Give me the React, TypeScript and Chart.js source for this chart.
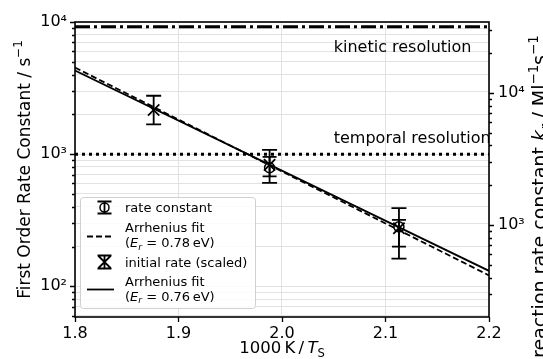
import React, { useEffect, useRef } from 'react';
import { Chart, registerables } from 'chart.js';

Chart.register(...registerables);

// ---- data ----
const xTickValues = [1.8, 1.9, 2.0, 2.1, 2.2];
const rateX = [1.988, 2.113];
const rateY = [790, 282];
const rateLow = [680, 200];
const rateHigh = [955, 318];
const initX = [1.876, 1.988, 2.113];
const initY = [2160, 830, 275];
const initLow = [1683, 606, 162];
const initHigh = [2766, 1077, 391];
const fitX = [1.8, 2.2];
const fit078 = [4520, 121];
const fit076 = [4300, 131];
const kineticLimit = 9200;
const temporalLimit = 1000;
const yRange = [58.6, 10000];
const xRange = [1.8, 2.2];
const rightFactor = 3.43;
const legendLabels = ['rate constant', 'Arrhenius fit', 'initial rate (scaled)', 'Arrhenius fit'];
const legendEnergies = ['0.78', '0.76'];

const FAMILY = '"DejaVu Sans", sans-serif';

type Seg = { t: string; it?: boolean; sub?: boolean; sup?: boolean };

function richWidth(ctx: CanvasRenderingContext2D, segs: Seg[], size: number) {
  let w = 0;
  for (const s of segs) {
    ctx.font = `${s.it ? 'italic ' : ''}${s.sub || s.sup ? size * 0.7 : size}px ${FAMILY}`;
    w += ctx.measureText(s.t).width;
  }
  return w;
}

function drawRich(ctx: CanvasRenderingContext2D, segs: Seg[], x: number, y: number, size: number, align: 'left' | 'center') {
  const w = richWidth(ctx, segs, size);
  let cx = align === 'center' ? x - w / 2 : x;
  ctx.textAlign = 'left';
  ctx.textBaseline = 'alphabetic';
  for (const s of segs) {
    ctx.font = `${s.it ? 'italic ' : ''}${s.sub || s.sup ? size * 0.7 : size}px ${FAMILY}`;
    const dy = s.sub ? size * 0.22 : s.sup ? -size * 0.42 : 0;
    ctx.fillText(s.t, cx, y + dy);
    cx += ctx.measureText(s.t).width;
  }
  return w;
}

const pts = (xs: number[], ys: number[]) => xs.map((x, i) => ({ x, y: ys[i] }));

const isRound = (v: number) => {
  const e = Math.pow(10, Math.floor(Math.log10(v) + 1e-9));
  const s = v / e;
  return Math.abs(s - Math.round(s)) < 1e-6;
};
const isPow10 = (v: number) => Math.abs(Math.log10(v) - Math.round(Math.log10(v))) < 1e-6;
const supDigits: Record<string, string> = { '0': '⁰', '1': '¹', '2': '²', '3': '³', '4': '⁴', '5': '⁵', '6': '⁶' };

const decorPlugin = {
  id: 'decor',
  beforeDatasetsDraw(chart: any) {
    const { ctx, chartArea: a } = chart;
    const xs = chart.scales.x;
    const ys = chart.scales.y;
    ctx.save();
    ctx.beginPath();
    ctx.rect(a.left, a.top, a.right - a.left, a.bottom - a.top);
    ctx.clip();
    ctx.fillStyle = '#000';
    ctx.font = `16px ${FAMILY}`;
    ctx.textAlign = 'left';
    ctx.textBaseline = 'alphabetic';
    ctx.fillText('kinetic resolution', xs.getPixelForValue(2.05), ys.getPixelForValue(5900));
    ctx.fillText('temporal resolution', xs.getPixelForValue(2.05), ys.getPixelForValue(1208));
    ctx.restore();
  },
  afterDatasetsDraw(chart: any) {
    const { ctx } = chart;
    const xs = chart.scales.x;
    const ys = chart.scales.y;
    ctx.save();
    ctx.strokeStyle = '#000';
    ctx.lineWidth = 1.8;
    const bar = (x: number, lo: number, hi: number, cap: number) => {
      const px = xs.getPixelForValue(x);
      const p1 = ys.getPixelForValue(lo);
      const p2 = ys.getPixelForValue(hi);
      ctx.beginPath();
      ctx.moveTo(px, p1); ctx.lineTo(px, p2);
      ctx.moveTo(px - cap, p1); ctx.lineTo(px + cap, p1);
      ctx.moveTo(px - cap, p2); ctx.lineTo(px + cap, p2);
      ctx.stroke();
    };
    rateX.forEach((x, i) => bar(x, rateLow[i], rateHigh[i], 7));
    initX.forEach((x, i) => bar(x, initLow[i], initHigh[i], 7.5));
    ctx.restore();
  },
  afterDraw(chart: any) {
    const { ctx, chartArea: a } = chart;
    const ys = chart.scales.y;
    const y2 = chart.scales.y2;
    const xs = chart.scales.x;
    ctx.save();
    ctx.strokeStyle = '#000';
    ctx.lineWidth = 1.3;
    // ticks
    ctx.beginPath();
    for (const t of ys.ticks) {
      if (!isRound(t.value)) continue;
      const p = Math.round(ys.getPixelForValue(t.value)) + 0.5;
      const len = isPow10(t.value) ? 5 : 3;
      ctx.moveTo(a.left, p); ctx.lineTo(a.left - len, p);
    }
    for (const t of y2.ticks) {
      if (!isRound(t.value)) continue;
      const p = Math.round(y2.getPixelForValue(t.value)) + 0.5;
      const len = isPow10(t.value) ? 5 : 3;
      ctx.moveTo(a.right, p); ctx.lineTo(a.right + len, p);
    }
    for (const v of xTickValues) {
      const p = Math.round(xs.getPixelForValue(v)) + 0.5;
      ctx.moveTo(p, a.bottom); ctx.lineTo(p, a.bottom + 5);
    }
    ctx.stroke();
    // frame
    ctx.lineWidth = 1.6;
    ctx.strokeRect(a.left, a.top, a.right - a.left, a.bottom - a.top);

    // axis titles
    ctx.fillStyle = '#000';
    drawRich(ctx, [{ t: '1000\u2009K\u2009/\u2009' }, { t: 'T', it: true }, { t: 'S', sub: true }], (a.left + a.right) / 2, 353, 16.5, 'center');
    ctx.save();
    ctx.translate(29.5, (a.top + a.bottom) / 2);
    ctx.rotate(-Math.PI / 2);
    drawRich(ctx, [{ t: 'First Order Rate Constant / s' }, { t: '−1', sup: true }], 0, 0, 17, 'center');
    ctx.restore();
    const rightSegs: Seg[] = [
      { t: 'reaction rate constant ' }, { t: 'k', it: true }, { t: 'r', it: true, sub: true },
      { t: ' / Ml' }, { t: '−1', sup: true }, { t: 's' }, { t: '−1', sup: true },
    ];
    ctx.save();
    ctx.translate(546, 358);
    ctx.rotate(-Math.PI / 2);
    drawRich(ctx, rightSegs, 0, 0, 19, 'left');
    ctx.restore();

    // legend
    const lx = 80.5, ly = 197.5, lw = 175, lh = 111;
    ctx.beginPath();
    ctx.roundRect(lx, ly, lw, lh, 3);
    ctx.fillStyle = 'rgba(255,255,255,0.85)';
    ctx.fill();
    ctx.strokeStyle = '#d0d0d0';
    ctx.lineWidth = 1;
    ctx.stroke();
    ctx.fillStyle = '#000';
    ctx.strokeStyle = '#000';
    const hx = 104.5;
    // rate constant handle
    ctx.lineWidth = 1.8;
    ctx.beginPath();
    ctx.moveTo(hx, 201.5); ctx.lineTo(hx, 213.5);
    ctx.moveTo(hx - 7, 201.5); ctx.lineTo(hx + 7, 201.5);
    ctx.moveTo(hx - 7, 213.5); ctx.lineTo(hx + 7, 213.5);
    ctx.stroke();
    ctx.lineWidth = 1.5;
    ctx.beginPath();
    ctx.arc(hx, 207.5, 4.5, 0, Math.PI * 2);
    ctx.stroke();
    // dashed
    ctx.lineWidth = 1.8;
    ctx.setLineDash([6, 3]);
    ctx.beginPath();
    ctx.moveTo(87, 236.5); ctx.lineTo(114, 236.5);
    ctx.stroke();
    ctx.setLineDash([]);
    // initial rate handle
    ctx.beginPath();
    ctx.moveTo(hx, 255.5); ctx.lineTo(hx, 268.5);
    ctx.moveTo(hx - 7, 255.5); ctx.lineTo(hx + 7, 255.5);
    ctx.moveTo(hx - 7, 268.5); ctx.lineTo(hx + 7, 268.5);
    ctx.moveTo(hx - 6, 256); ctx.lineTo(hx + 6, 268);
    ctx.moveTo(hx + 6, 256); ctx.lineTo(hx - 6, 268);
    ctx.stroke();
    // solid
    ctx.beginPath();
    ctx.moveTo(87, 289.5); ctx.lineTo(114, 289.5);
    ctx.stroke();
    // texts
    const fs = 13;
    const tx = 125;
    ctx.font = `${fs}px ${FAMILY}`;
    ctx.textAlign = 'left';
    ctx.textBaseline = 'alphabetic';
    ctx.fillText(legendLabels[0], tx, 212);
    ctx.fillText(legendLabels[1], tx, 232);
    drawRich(ctx, [{ t: '(' }, { t: 'E', it: true }, { t: 'r', it: true, sub: true }, { t: ' = ' + legendEnergies[0] + '\u2009eV)' }], tx, 247, fs, 'left');
    ctx.font = `${fs}px ${FAMILY}`;
    ctx.fillText(legendLabels[2], tx, 266.5);
    ctx.fillText(legendLabels[3], tx, 285.5);
    drawRich(ctx, [{ t: '(' }, { t: 'E', it: true }, { t: 'r', it: true, sub: true }, { t: ' = ' + legendEnergies[1] + '\u2009eV)' }], tx, 300.5, fs, 'left');
    ctx.restore();
  },
};

export default function App() {
  const ref = useRef<HTMLCanvasElement>(null);
  useEffect(() => {
    if (!ref.current) return;
    const gridColor = '#e2e2e2';
    const chart = new Chart(ref.current, {
      type: 'line',
      data: {
        datasets: [
          {
            label: 'kinetic',
            data: pts(xRange, [kineticLimit, kineticLimit]),
            borderColor: '#000', borderWidth: 3, borderDash: [15, 4, 3, 4], pointRadius: 0,
            borderCapStyle: 'butt',
          },
          {
            label: 'temporal',
            data: pts(xRange, [temporalLimit, temporalLimit]),
            borderColor: '#000', borderWidth: 3, borderDash: [3, 4], pointRadius: 0,
          },
          {
            label: 'fit078',
            data: pts(fitX, fit078),
            borderColor: '#000', borderWidth: 1.8, borderDash: [6, 3], pointRadius: 0,
          },
          {
            label: 'fit076',
            data: pts(fitX, fit076),
            borderColor: '#000', borderWidth: 1.8, pointRadius: 0,
          },
          {
            label: 'rate constant',
            data: pts(rateX, rateY),
            showLine: false, pointStyle: 'circle', pointRadius: 5,
            pointBorderColor: '#000', pointBackgroundColor: 'rgba(0,0,0,0)', pointBorderWidth: 1.5,
            borderColor: '#000',
          },
          {
            label: 'initial rate (scaled)',
            data: pts(initX, initY),
            showLine: false, pointStyle: 'crossRot', pointRadius: 8,
            pointBorderColor: '#000', pointBorderWidth: 1.8,
            borderColor: '#000',
          },
        ],
      },
      options: {
        animation: false,
        responsive: false,
        devicePixelRatio: 1,
        layout: { padding: { top: 22, left: 0, right: 0, bottom: 0 } },
        plugins: { legend: { display: false }, tooltip: { enabled: false } },
        scales: {
          x: {
            type: 'linear', min: xRange[0], max: xRange[1],
            afterFit: (s: any) => { s.height = 42; },
            afterBuildTicks: (s: any) => { s.ticks = xTickValues.map((v) => ({ value: v })); },
            ticks: {
              color: '#000', font: { family: FAMILY, size: 16 }, padding: 7,
              callback: (v: any) => Number(v).toFixed(1), autoSkip: false, maxRotation: 0,
            },
            grid: { color: gridColor, lineWidth: 1, drawTicks: false },
            border: { display: false },
          },
          y: {
            type: 'logarithmic', position: 'left', min: yRange[0], max: yRange[1],
            afterFit: (s: any) => { s.width = 75; },
            ticks: {
              color: '#000', font: { family: FAMILY, size: 16 }, padding: 8, autoSkip: false,
              callback: (v: any) => (isPow10(Number(v)) ? '10' + supDigits[String(Math.round(Math.log10(Number(v))))] : ''),
            },
            grid: {
              color: (c: any) => (c.tick && isRound(c.tick.value) ? gridColor : 'rgba(0,0,0,0)'),
              lineWidth: 1, drawTicks: false,
            },
            border: { display: false },
          },
          y2: {
            type: 'logarithmic', position: 'right', min: yRange[0] * rightFactor, max: yRange[1] * rightFactor,
            afterFit: (s: any) => { s.width = 54; },
            ticks: {
              color: '#000', font: { family: FAMILY, size: 16 }, padding: 9, autoSkip: false,
              callback: (v: any) => (isPow10(Number(v)) ? '10' + supDigits[String(Math.round(Math.log10(Number(v))))] : ''),
            },
            grid: { drawOnChartArea: false, drawTicks: false },
            border: { display: false },
          },
        },
      },
      plugins: [decorPlugin],
    } as any);
    return () => chart.destroy();
  }, []);
  return (
    <div style={{ position: 'absolute', left: 0, top: 0, width: 543, height: 359, background: '#fff' }}>
      <canvas ref={ref} width={543} height={359} style={{ display: 'block' }} />
    </div>
  );
}
